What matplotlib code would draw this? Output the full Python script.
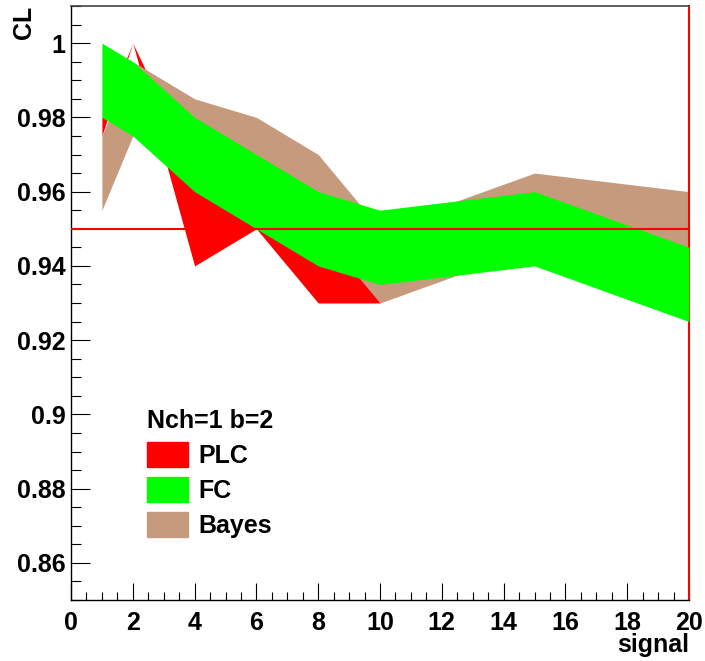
import numpy as np
import matplotlib
matplotlib.use("Agg")
import matplotlib.pyplot as plt
from matplotlib.patches import Patch
from matplotlib.ticker import MultipleLocator

plt.rcParams['font.family'] = ['Liberation Sans', 'DejaVu Sans']
plt.rcParams['font.weight'] = 'bold'

# CL bands vs signal
plc_x = [1, 2, 4, 6, 8, 10]
plc_lo = [0.975, 1.0, 0.94, 0.95, 0.93, 0.93]
plc_hi = [0.98, 1.0, 0.965, 0.95, 0.945, 0.935]

fc_x = [1, 2, 4, 6, 8, 10, 15, 20]
fc_lo = [0.98, 0.975, 0.96, 0.95, 0.94, 0.935, 0.94, 0.925]
fc_hi = [1.0, 0.995, 0.98, 0.97, 0.96, 0.955, 0.96, 0.945]

bay_x = [1, 2, 4, 6, 8, 10, 15, 20]
bay_lo = [0.955, 0.975, 0.97, 0.96, 0.95, 0.93, 0.945, 0.94]
bay_hi = [0.975, 0.995, 0.985, 0.98, 0.97, 0.95, 0.965, 0.96]

cl_ref = 0.95
brown = '#c69a7c'

fig = plt.figure(figsize=(7.05, 6.61), dpi=100)
ax = fig.add_axes([71/705, 61/661, 618/705, 594/661])

ax.fill_between(plc_x, plc_lo, plc_hi, color='#ff0000', lw=0, zorder=1)
ax.fill_between(bay_x, bay_lo, bay_hi, color=brown, lw=0, zorder=2)
ax.fill_between(fc_x, fc_lo, fc_hi, color='#00ff00', lw=0, zorder=3)
ax.axhline(cl_ref, color='#ff0000', lw=1.5, zorder=4)

ax.set_xlim(0, 20)
ax.set_ylim(0.85, 1.01)

ax.xaxis.set_major_locator(MultipleLocator(2))
ax.xaxis.set_minor_locator(MultipleLocator(0.5))
ax.yaxis.set_minor_locator(MultipleLocator(0.005))
ax.set_yticks(np.arange(0.86, 1.001, 0.02))
ax.set_yticklabels(['0.86', '0.88', '0.9', '0.92', '0.94', '0.96', '0.98', '1'])

ax.tick_params(axis='both', which='both', direction='in', top=False, right=False,
               width=0.8, labelsize=18)
ax.tick_params(axis='x', which='major', length=12.5, pad=8)
ax.tick_params(axis='x', which='minor', length=6)
ax.tick_params(axis='y', which='major', length=13.5, pad=4)
ax.tick_params(axis='y', which='minor', length=7)

for lab in ax.get_xticklabels() + ax.get_yticklabels():
    lab.set_fontweight('bold')

ax.spines['right'].set_color('#ff0000')
ax.spines['right'].set_linewidth(1.5)
ax.spines['top'].set_color('#444444')
ax.spines['top'].set_linewidth(1.2)
ax.spines['left'].set_linewidth(1.0)
ax.spines['bottom'].set_linewidth(1.0)

fig.text(689/705, 4/661, 'signal', ha='right', va='bottom', fontsize=18, fontweight='bold')
fig.text(12/705, 1 - 6/661, 'CL', ha='left', va='top', rotation=90, fontsize=18, fontweight='bold')

handles = [Patch(color='#ff0000', label='PLC'),
           Patch(color='#00ff00', label='FC'),
           Patch(color=brown, label='Bayes')]
leg = ax.legend(handles=handles, title='Nch=1 b=2', loc='upper left',
                bbox_to_anchor=((147 - 71) / 618, (600 - 409) / 594),
                frameon=False, borderpad=0, borderaxespad=0,
                handlelength=1.65, handleheight=1.15, handletextpad=0.4,
                labelspacing=0.36, alignment='left', prop={'weight': 'bold', 'size': 18})
leg.get_title().set_fontweight('bold')
leg.get_title().set_fontsize(18)

fig.savefig('out.png', dpi=100)
